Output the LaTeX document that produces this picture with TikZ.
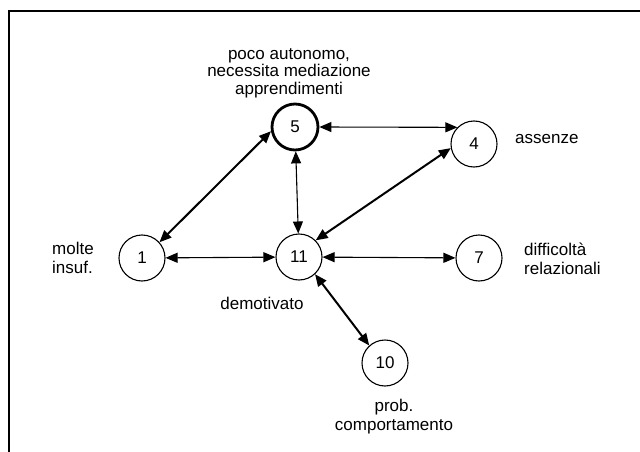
\documentclass[tikz,border=0pt]{standalone}
\usepackage{fontspec}
\setmainfont{Liberation Sans}
\usetikzlibrary{arrows.meta}
\begin{document}
\begin{tikzpicture}[x=1pt,y=-1pt,
  state/.style={circle,draw,line width=1.1pt,minimum size=46pt,inner sep=0pt,font=\fontsize{17}{18}\selectfont},
  boldstate/.style={state,line width=2.8pt,minimum size=46pt},
  lbl/.style={inner sep=0pt,font=\fontsize{17}{18.5}\selectfont},
  conn/.style={{Triangle[length=12pt,width=10pt]}-{Triangle[length=12pt,width=10pt]},line width=1.1pt},
  heavyconn/.style={conn,line width=2pt}]
\useasboundingbox (0,0) rectangle (640,452);
\draw[line width=1.6pt] (9,452) -- (9,11) -- (640,11);

\node[boldstate] (n5) at (295,127) {5};
\node[state] (n4) at (474,144) {4};
\node[state] (n1) at (142,258) {1};
\node[state] (n11) at (299,257) {11};
\node[state] (n7) at (479,258) {7};
\node[state] (n10) at (385,363) {10};

\node[lbl,align=center,anchor=base,font=\fontsize{17}{17.5}\selectfont] (t5) at (289,94) {poco autonomo,\\necessita mediazione\\apprendimenti};
\node[lbl,anchor=base west] (t4) at (515,143) {assenze};
\node[lbl,align=left,anchor=base west] (t1) at (52,273) {molte\\insuf.};
\node[lbl,anchor=base] (t11) at (262,309) {demotivato};
\node[lbl,align=left,anchor=base west] (t7) at (524,274) {difficoltà\\relazionali};
\node[lbl,align=center,anchor=base] (t10) at (394,430) {prob.\\comportamento};

\draw[heavyconn] (n1.42) -- (n5.190);
\draw[conn] (n5) -- (n11);
\draw[conn] (n5.east) -- (n4.135);
\draw[heavyconn] (n11.45) -- (n4.190);
\draw[conn] (n1) -- (n11);
\draw[conn] (n11) -- (n7);
\draw[heavyconn] (n11.-47) -- (n10.132);
\end{tikzpicture}
\end{document}
